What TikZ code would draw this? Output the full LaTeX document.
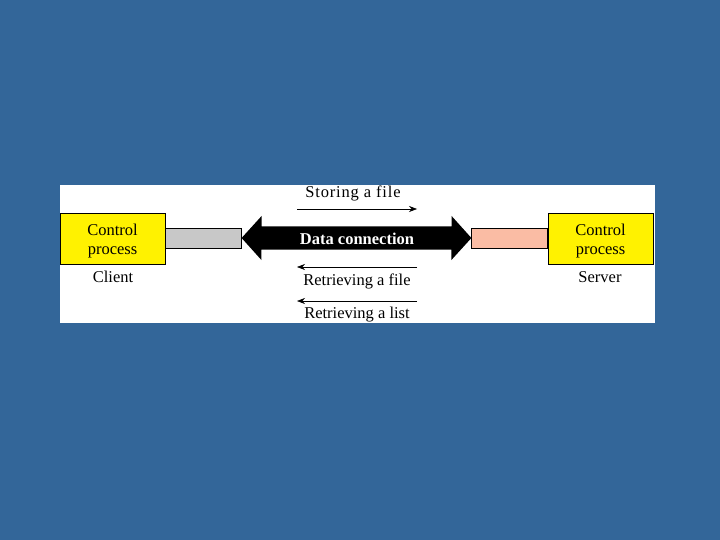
\documentclass[tikz,border=0pt]{standalone}
\usepackage{fontspec}
\setmainfont{Liberation Serif}
\usetikzlibrary{arrows.meta}
\definecolor{slideblue}{RGB}{51,102,153}
\definecolor{barsalmon}{RGB}{250,188,164}
\definecolor{bargray}{RGB}{200,200,200}
\begin{document}
\begin{tikzpicture}[x=1pt,y=-1pt,
    procbox/.style={draw=black, fill=yellow, minimum width=105pt, minimum height=51pt,
        inner sep=0pt, label={[align=center, inner sep=0pt, yshift=-2.5pt,
        font=\fontsize{16.5}{19}\selectfont]center:Control\\process}},
    linkbar/.style={draw=black, minimum width=76pt, minimum height=20pt, inner sep=0pt},
    caption/.style={font=\fontsize{16.5}{19}\selectfont, inner sep=0pt},
    flow/.style={-{Stealth[length=8pt,width=6pt]}, semithick}]
    % Background and white panel
    \fill[slideblue] (0,0) rectangle (720,540);
    \fill[white] (60,185) rectangle (655,323);
    % Control process boxes
    \node[procbox] (client) at (112.5,238.5) {};
    \node[procbox] (server) at (600.5,238.5) {};
    \node[caption] (clientlbl) at (113,277) {Client};
    \node[caption] (serverlbl) at (600,277) {Server};
    % Bars joining the boxes to the data connection
    \node[linkbar, fill=bargray, anchor=west] (cbar) at (client.east |- 0,238) {};
    \node[linkbar, fill=barsalmon, anchor=east] (sbar) at (server.west |- 0,238) {};
    % Data connection double arrow
    \fill[black] (cbar.east) -- ++(20,-22) -- ++(0,10.5) -- ++(190,0) -- ++(0,-10.5)
        -- (sbar.west) -- ++(-20,22) -- ++(0,-10.5) -- ++(-190,0) -- ++(0,10.5) -- cycle;
    \node[caption, text=white, font=\fontsize{16.5}{19}\selectfont\bfseries] (data) at (357,239) {Data connection};
    % Transfer directions
    \node[caption, font=\fontsize{16.5}{19}\selectfont\addfontfeatures{LetterSpace=5}] (store) at (353,193) {Storing a file};
    \coordinate (storeL) at (297,209);
    \coordinate (storeR) at (417,209);
    \draw[flow] (storeL) -- (storeR);
    \coordinate (fileR) at (417,267);
    \coordinate (fileL) at (297,267);
    \draw[flow] (fileR) -- (fileL);
    \node[caption] (getfile) at (357,281) {Retrieving a file};
    \coordinate (listR) at (417,301);
    \coordinate (listL) at (297,301);
    \draw[flow] (listR) -- (listL);
    \node[caption] (getlist) at (357,315) {Retrieving a list};
\end{tikzpicture}
\end{document}
